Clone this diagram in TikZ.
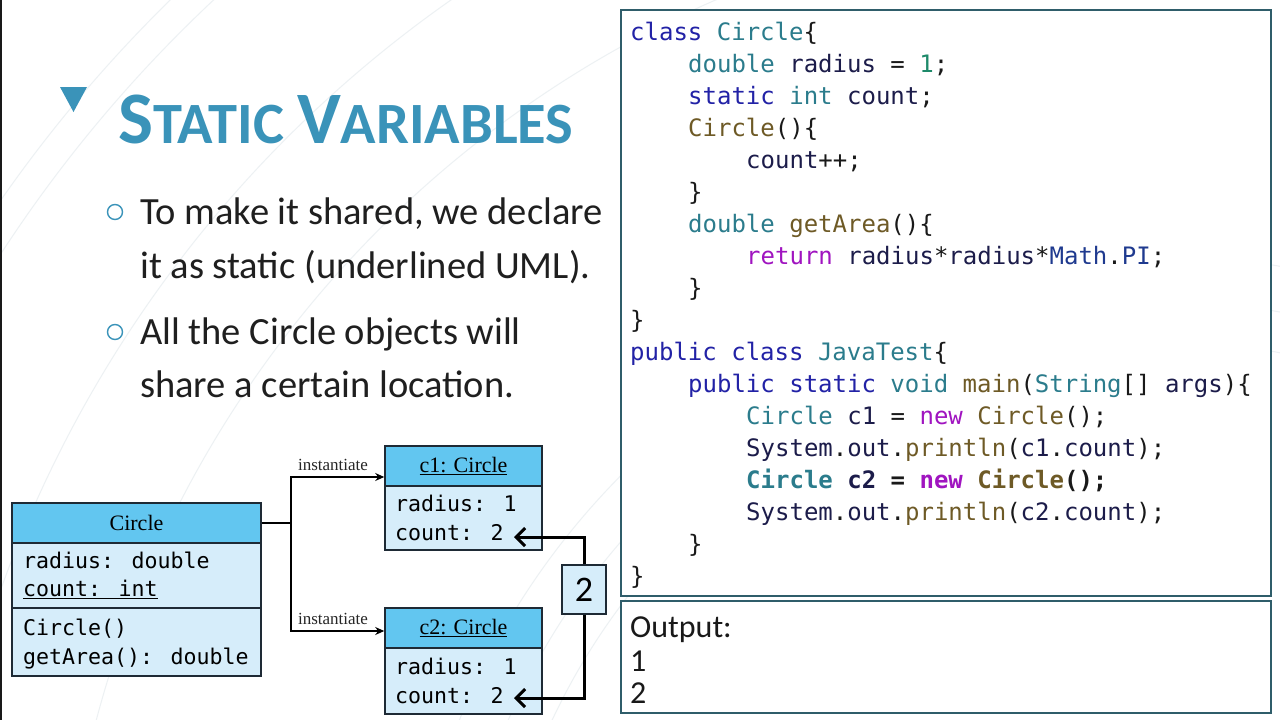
\documentclass[tikz,border=0pt]{standalone}
\usepackage{fontspec}
\setmainfont{Carlito}
\newfontfamily\tnr{Liberation Serif}
\newfontfamily\mono{DejaVu Sans Mono}
\usetikzlibrary{arrows.meta}
\definecolor{teal1}{HTML}{3A93B9}
\definecolor{boxline}{HTML}{2F5D6A}
\definecolor{hdrblue}{HTML}{62C6F0}
\definecolor{bodyblue}{HTML}{D6EDFA}
\definecolor{umlline}{HTML}{1E2A35}
\definecolor{ckw}{HTML}{2222A6}
\definecolor{cty}{HTML}{2B7C8C}
\definecolor{cid}{HTML}{1C1C4A}
\definecolor{cmt}{HTML}{6E5A26}
\definecolor{cnum}{HTML}{1E8A6A}
\definecolor{cpur}{HTML}{A014C0}
\definecolor{cmath}{HTML}{1F3A8F}
\definecolor{arcgray}{HTML}{EDF1F3}
\newcommand\cKw[1]{\textcolor{ckw}{#1}}
\newcommand\cTy[1]{\textcolor{cty}{#1}}
\newcommand\cId[1]{\textcolor{cid}{#1}}
\newcommand\cMt[1]{\textcolor{cmt}{#1}}
\newcommand\cNum[1]{\textcolor{cnum}{#1}}
\newcommand\cPur[1]{\textcolor{cpur}{#1}}
\newcommand\cMath[1]{\textcolor{cmath}{#1}}
\tikzset{
  codeln/.style={anchor=base west, inner sep=0pt, text=black!90, font={\mono\fontsize{24}{28}\selectfont}},
  panel/.style={draw=boxline, line width=2pt, fill=white},
  bullettext/.style={anchor=base west, inner sep=0pt, text=black!88, font={\fontsize{38.5}{42}\selectfont}},
  bulletmark/.style={draw=teal1, line width=1.4pt, circle, minimum size=15pt, inner sep=0pt},
  hdrbox/.style={draw=umlline, line width=1.6pt, fill=hdrblue, inner sep=0pt},
  bodybox/.style={draw=umlline, line width=1.6pt, fill=bodyblue, inner sep=0pt},
  umltext/.style={anchor=base west, inner sep=0pt, text=black, font={\mono\fontsize{21.6}{24}\selectfont}},
  umlhead/.style={inner sep=0pt, text=black, font={\tnr\fontsize{22}{24}\selectfont}},
  instlabel/.style={inner sep=0pt, text=black!85, font={\tnr\fontsize{17}{18}\selectfont}},
  instarrow/.style={draw=black, line width=2pt, -{Stealth[length=9pt,width=8pt]}},
  sharearrow/.style={draw=black, line width=3pt, -{Straight Barb[length=9pt,width=18pt,line width=3pt]}},
  outtext/.style={anchor=base west, inner sep=0pt, text=black!90, font={\fontsize{32}{34}\selectfont}},
}
\begin{document}
\begin{tikzpicture}[x=1pt,y=-1pt]
\useasboundingbox (0,0) rectangle (1280,720);
\fill[white] (0,0) rectangle (1280,720);
% faint background arcs
\begin{scope}
\clip (0,0) rectangle (1280,720);
\foreach \r in {660,700,745,1090,1220,1370,1400}{
  \draw[arcgray, line width=1pt] (1150,1000) circle (\r);
}
\end{scope}
\fill[black!90] (0,0) rectangle (2,720);

% title
\fill[teal1] (60,87) -- (87,87) -- (73.5,112) -- cycle;
\node[anchor=base west, inner sep=0pt, text=teal1, font=\bfseries] (title) at (118,143)
  {\fontsize{74}{80}\selectfont S\fontsize{58.5}{64}\selectfont TATIC \fontsize{74}{80}\selectfont V\fontsize{58.5}{64}\selectfont ARIABLES};

% bullets
\node[bulletmark] (b1) at (115,212) {};
\node[bullettext] (t1) at (140,224) {To make it shared, we declare};
\node[bullettext] (t2) at (140,278) {it as static (underlined UML).};
\node[bulletmark] (b2) at (115,332) {};
\node[bullettext] (t3) at (140,344) {All the Circle objects will};
\node[bullettext] (t4) at (140,397) {share a certain location.};

% code panel
\draw[panel] (621,10) rectangle (1271,596);
\draw[panel] (621,601) rectangle (1271,713);

\node[codeln] (l0) at (630,40) {\cKw{class} \cTy{Circle}\{};
\node[codeln] (l1) at (688,72) {\cTy{double} \cId{radius} = \cNum{1};};
\node[codeln] (l2) at (688,104) {\cKw{static} \cTy{int} \cId{count};};
\node[codeln] (l3) at (688,136) {\cMt{Circle}()\{};
\node[codeln] (l4) at (746,168) {\cId{count}++;};
\node[codeln] (l5) at (688,200) {\}};
\node[codeln] (l6) at (688,232) {\cTy{double} \cMt{getArea}()\{};
\node[codeln] (l7) at (746,264) {\cPur{return} \cId{radius}*\cId{radius}*\cMath{Math}.\cMath{PI};};
\node[codeln] (l8) at (688,296) {\}};
\node[codeln] (l9) at (630,328) {\}};
\node[codeln] (l10) at (630,360) {\cKw{public} \cKw{class} \cTy{JavaTest}\{};
\node[codeln] (l11) at (688,392) {\cKw{public} \cKw{static} \cTy{void} \cMt{main}(\cTy{String}[] \cId{args})\{};
\node[codeln] (l12) at (746,424) {\cTy{Circle} \cId{c1} = \cPur{new} \cMt{Circle}();};
\node[codeln] (l13) at (746,456) {\cId{System}.\cId{out}.\cMt{println}(\cId{c1}.\cId{count});};
\node[codeln, font={\mono\bfseries\fontsize{24}{28}\selectfont}] (l14) at (746,488) {\cTy{Circle} \cId{c2} = \cPur{new} \cMt{Circle}();};
\node[codeln] (l15) at (746,520) {\cId{System}.\cId{out}.\cMt{println}(\cId{c2}.\cId{count});};
\node[codeln] (l16) at (688,552) {\}};
\node[codeln] (l17) at (630,584) {\}};

% output
\node[outtext] (o0) at (630,637) {Output:};
\node[outtext] (o1) at (630,671) {1};
\node[outtext] (o2) at (630,703) {2};

% UML class Circle
\node[hdrbox, minimum width=249pt, minimum height=40pt] (circH) at (136.5,523) {};
\node[umlhead] (circT) at (136.5,523) {Circle};
\node[bodybox, minimum width=249pt, minimum height=65pt] (circA) at (136.5,575.5) {};
\node[bodybox, minimum width=249pt, minimum height=68pt] (circM) at (136.5,642) {};
\node[umltext] (ca1) at (23,568) {radius: double};
\node[umltext] (ca2) at (23,596) {\underline{count: int}};
\node[umltext] (cm1) at (23,635) {Circle()};
\node[umltext] (cm2) at (23,664) {getArea(): double};

% object c1
\node[hdrbox, minimum width=157pt, minimum height=40pt] (c1H) at (463.5,466) {};
\node[umlhead] (c1T) at (463.5,466) {\underline{c1: Circle}};
\node[bodybox, minimum width=157pt, minimum height=64pt] (c1B) at (463.5,518) {};
\node[umltext] (c1r) at (395,511) {radius: 1};
\node[umltext] (c1c) at (395,540) {count: 2};

% object c2
\node[hdrbox, minimum width=157pt, minimum height=40pt] (c2H) at (463.5,628) {};
\node[umlhead] (c2T) at (463.5,628) {\underline{c2: Circle}};
\node[bodybox, minimum width=157pt, minimum height=66pt] (c2B) at (463.5,681) {};
\node[umltext] (c2r) at (395,674) {radius: 1};
\node[umltext] (c2c) at (395,703) {count: 2};

% instantiate connectors
\coordinate (j) at (291,523);
\draw[line width=2pt] (circH.east) -- (j);
\draw[instarrow] (j) |- ([yshift=-11pt]c1H.west);
\draw[instarrow] (j) |- ([yshift=-3pt]c2H.west);
\node[instlabel] (inst1) at (333,465) {instantiate};
\node[instlabel] (inst2) at (333,619) {instantiate};

% shared value box
\node[bodybox, minimum width=44pt, minimum height=49pt, font={\fontsize{36}{40}\selectfont}] (two) at (584,589.5) {2};
\coordinate (a1) at (514,537);
\coordinate (a2) at (514,698);
\draw[sharearrow] (two.north) |- (a1);
\draw[sharearrow] (two.south) |- (a2);
\end{tikzpicture}
\end{document}
